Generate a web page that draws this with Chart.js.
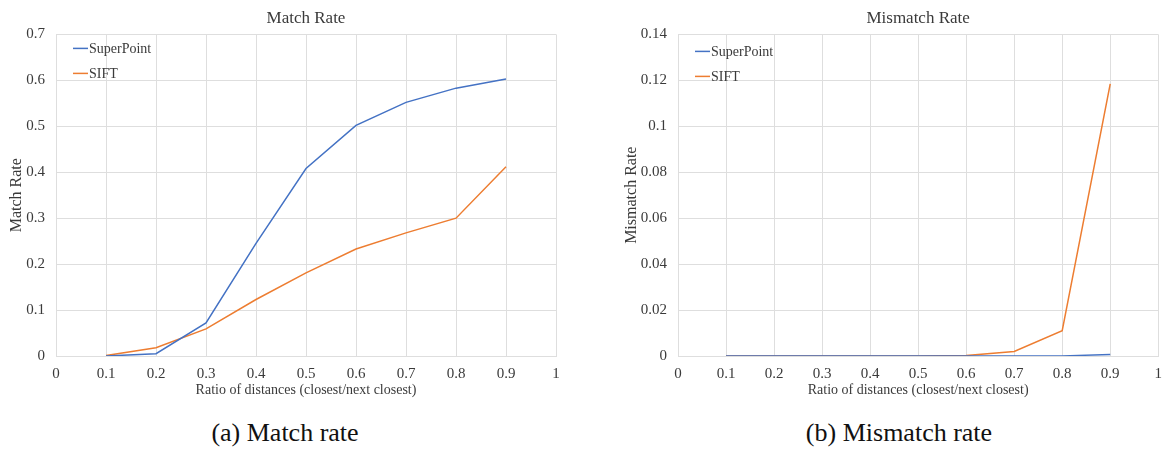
<!DOCTYPE html>
<html>
<head>
<meta charset="utf-8">
<script src="https://cdn.jsdelivr.net/npm/chart.js@4.4.1/dist/chart.umd.min.js"></script>
<style>
  html, body { margin: 0; padding: 0; background: #fff; }
  body { width: 1171px; height: 449px; position: relative; overflow: hidden; }
  .box { position: absolute; top: 0; height: 401px; }
  #boxA { left: 0; width: 585px; }
  #boxB { left: 620px; width: 551px; }
  .caption {
    position: absolute; top: 418px;
    font-family: "Liberation Serif", "Times New Roman", "DejaVu Serif", serif;
    font-size: 26px; line-height: 30px; color: #111; white-space: nowrap;
    transform: translateX(-50%);
  }
</style>
</head>
<body>
<div class="box" id="boxA"><canvas id="chartA"></canvas></div>
<div class="box" id="boxB"><canvas id="chartB"></canvas></div>
<div class="caption" style="left:285px">(a) Match rate</div>
<div class="caption" style="left:899px">(b) Mismatch rate</div>

<script>
'use strict';

// ratio thresholds (closest / next closest)
const RATIOS = [0.1, 0.2, 0.3, 0.4, 0.5, 0.6, 0.7, 0.8, 0.9];

// match rate
const MATCH_SUPERPOINT = [0.000, 0.005, 0.072, 0.245, 0.408, 0.502, 0.552, 0.583, 0.603];
const MATCH_SIFT       = [0.001, 0.018, 0.059, 0.123, 0.181, 0.233, 0.268, 0.300, 0.412];

// mismatch rate
const MISMATCH_SUPERPOINT = [0, 0, 0, 0, 0, 0, 0, 0, 0.0007];
const MISMATCH_SIFT       = [0, 0, 0, 0, 0, 0.0002, 0.002, 0.011, 0.1185];

const SERIES_NAMES = ['SuperPoint', 'SIFT'];
const BLUE   = '#4472C4';
const ORANGE = '#ED7D31';
const GRID   = '#dedede';
const TEXT   = '#3a3a3a';
const FONT   = '"Liberation Serif", "Times New Roman", "DejaVu Serif", serif';

/* ---------- legend drawn inside the plot area ---------- */
const innerLegend = {
  id: 'innerLegend',
  afterDraw(chart, args, opts) {
    const { ctx, chartArea } = chart;
    ctx.save();
    ctx.font = '14px ' + FONT;
    ctx.textBaseline = 'middle';
    chart.data.datasets.forEach((ds, i) => {
      const y = chartArea.top + opts.top + i * 25;
      const x = chartArea.left + 17;
      ctx.strokeStyle = ds.borderColor;
      ctx.lineWidth = 1.5;
      ctx.beginPath();
      ctx.moveTo(x, y);
      ctx.lineTo(x + 15, y);
      ctx.stroke();
      ctx.fillStyle = TEXT;
      ctx.fillText(ds.label, x + 16, y + 1);
    });
    ctx.restore();
  },
};

function toPoints(ys) {
  return RATIOS.map((x, i) => ({ x, y: ys[i] }));
}

function tickText(value) {
  return String(+value.toFixed(2));
}

function makeChart(id, title, yTitle, superpoint, sift, yMax, yStep, yWidth, padRight, legendTop, yTitlePad) {
  return new Chart(document.getElementById(id), {
    type: 'line',
    data: {
      datasets: [
        { label: SERIES_NAMES[0], data: toPoints(superpoint), borderColor: BLUE, borderWidth: 1.5, pointRadius: 0, tension: 0 },
        { label: SERIES_NAMES[1], data: toPoints(sift), borderColor: ORANGE, borderWidth: 1.5, pointRadius: 0, tension: 0 },
      ],
    },
    plugins: [innerLegend],
    options: {
      responsive: true,
      maintainAspectRatio: false,
      animation: false,
      layout: { padding: { left: 0, right: padRight, top: 0, bottom: 0 } },
      plugins: {
        legend: { display: false },
        tooltip: { enabled: false },
        innerLegend: { top: legendTop },
        title: {
          display: true,
          fullSize: false,
          text: title,
          color: TEXT,
          font: { family: FONT, size: 17, weight: 'normal' },
          padding: { top: 8, bottom: 6 },
        },
      },
      scales: {
        x: {
          type: 'linear',
          min: 0,
          max: 1,
          afterFit(axis) { axis.height = 45; },
          ticks: { stepSize: 0.1, color: TEXT, padding: 9, font: { family: FONT, size: 15 }, callback: tickText },
          grid: { color: GRID, drawTicks: false },
          border: { color: GRID },
          title: {
            display: true,
            text: 'Ratio of distances (closest/next closest)',
            color: TEXT,
            font: { family: FONT, size: 14 },
            padding: { top: 2, bottom: 2 },
          },
        },
        y: {
          min: 0,
          max: yMax,
          afterFit(axis) { axis.width = yWidth; },
          ticks: { stepSize: yStep, color: TEXT, padding: 11, font: { family: FONT, size: 15 }, callback: tickText },
          grid: { color: GRID, drawTicks: false },
          border: { display: false },
          title: {
            display: true,
            text: yTitle,
            color: TEXT,
            font: { family: FONT, size: 16 },
            padding: { top: yTitlePad, bottom: 0 },
          },
        },
      },
    },
  });
}

function draw() {
  makeChart('chartA', 'Match Rate', 'Match Rate', MATCH_SUPERPOINT, MATCH_SIFT, 0.7, 0.1, 56, 29, 14, 7);
  makeChart('chartB', 'Mismatch Rate', 'Mismatch Rate', MISMATCH_SUPERPOINT, MISMATCH_SIFT, 0.14, 0.02, 58, 0, 17, 2);
}

// wait for the serif face before measuring text
document.fonts.load('15px "Liberation Serif"').then(draw, draw);
</script>
</body>
</html>
